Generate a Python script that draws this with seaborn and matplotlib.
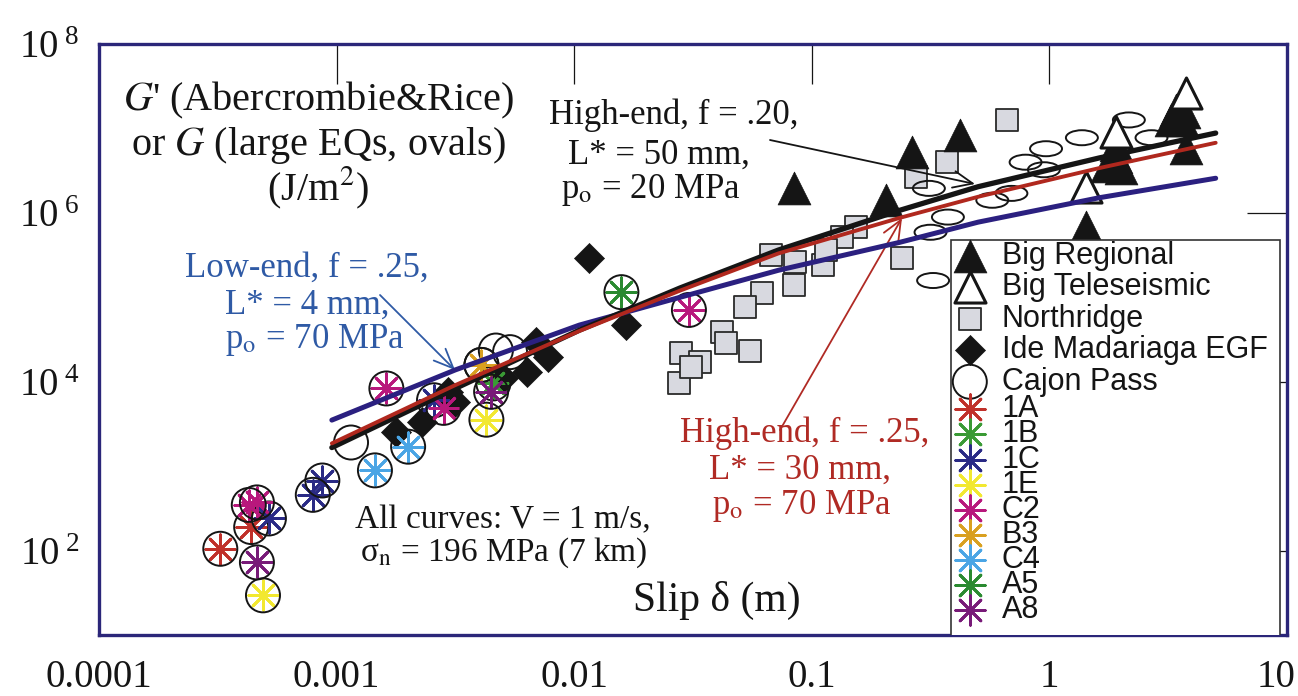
import matplotlib
matplotlib.use('Agg')
import matplotlib.pyplot as plt
import seaborn as sns
import pandas as pd
from matplotlib.path import Path
from matplotlib.patches import Rectangle
from matplotlib.transforms import ScaledTranslation

sns.set_style('white')
plt.rcParams['font.family'] = ['Liberation Serif', 'DejaVu Serif']
plt.rcParams['mathtext.fontset'] = 'stix'

# model curves (slip in m, G in J/m^2)
curve_slip = [9.55e-4, 3.16e-3, 0.0105, 0.0279, 0.0724, 0.234, 0.501, 1.62, 5.01]
g_high20 = [1660, 8320, 4.07e4, 1.29e5, 3.63e5, 1.07e6, 2.04e6, 4.47e6, 8.81e6]
g_high25 = [1860, 9120, 3.98e4, 1.20e5, 3.31e5, 8.71e5, 1.55e6, 3.39e6, 6.76e6]
g_low25 = [3510, 1.38e4, 4.68e4, 1.0e5, 2.09e5, 4.47e5, 7.76e5, 1.51e6, 2.57e6]

# earthquake data
regional_slip = [0.0841, 0.205, 0.264, 0.421, 1.43, 1.91, 1.91, 2.0, 1.74, 3.41, 3.69, 3.63, 3.24, 3.76]
regional_g = [1.95e6, 1.41e6, 5.25e6, 8.32e6, 6.76e5, 6.31e6, 4.57e6, 3.39e6, 3.55e6, 1.66e7, 1.55e7, 1.26e7, 1.26e7, 5.89e6]
tele_slip = [3.76, 1.91, 1.43]
tele_g = [2.63e7, 9.12e6, 2.04e6]
northridge_slip = [0.664, 0.372, 0.275, 0.240, 0.153, 0.134, 0.112, 0.115, 0.0841, 0.0851,
                   0.0676, 0.0617, 0.0525, 0.0417, 0.0437, 0.0550, 0.0282, 0.0339, 0.0275, 0.0309]
northridge_g = [1.26e7, 3.98e6, 2.63e6, 2.88e5, 6.76e5, 5.13e5, 2.40e5, 3.63e5, 1.38e5, 2.63e5,
                3.16e5, 1.12e5, 7.59e4, 3.89e4, 2.88e4, 2.34e4, 2.19e4, 1.70e4, 9550, 1.48e4]
ide_slip = [1.78e-3, 2.29e-3, 2.95e-3, 3.16e-3, 5.01e-3, 6.31e-3, 6.92e-3, 7.76e-3, 0.0115, 0.0166]
ide_g = [2510, 3310, 7590, 5750, 1.10e4, 1.29e4, 2.95e4, 1.95e4, 2.88e5, 4.68e4]
cajon_slip = [1.15e-3, 4.07e-3, 4.68e-3, 5.37e-3]
cajon_g = [1905, 1.58e4, 2.34e4, 2.24e4]
oval_slip = [0.311, 0.374, 0.316, 0.575, 0.692, 0.794, 0.948, 0.968, 1.37, 2.16, 2.69, 0.324]
oval_g = [1.95e6, 8.91e5, 5.89e5, 1.41e6, 1.70e6, 3.98e6, 3.24e6, 5.75e6, 7.76e6, 1.26e7, 7.76e6, 1.58e5]

# lab experiments
lab_order = ['1A', '1B', '1C', '1E', 'C2', 'B3', 'C4', 'A5', 'A8']
lab_id = ['1A', '1A', '1B', '1C', '1C', '1C', '1C', '1E', '1E', 'C2', 'C2', 'C2', 'C2', 'C2',
          'B3', 'C4', 'C4', 'A5', 'A8', 'A8']
lab_slip = [3.24e-4, 4.37e-4, 4.57e-3, 5.19e-4, 7.94e-4, 8.71e-4, 2.57e-3, 4.90e-4, 4.27e-3,
            4.27e-4, 4.62e-4, 1.62e-3, 2.82e-3, 0.0304, 4.07e-3, 1.45e-3, 2.0e-3, 0.0158, 4.62e-4, 4.47e-3]
lab_g = [105, 190, 9550, 240, 457, 676, 6030, 29.5, 3550, 347, 372, 8320, 4900, 7.08e4,
         1.58e4, 891, 1700, 1.15e5, 72.4, 7590]
lab_colors = {'1A': '#c0302a', '1B': '#3a9a35', '1C': '#2a2a85', '1E': '#f2e830', 'C2': '#b8187c',
              'B3': '#d9a020', 'C4': '#4aa5e5', 'A5': '#2a8a30', 'A8': '#781a78'}

lab = pd.DataFrame({'id': lab_id, 'slip': lab_slip, 'g': lab_g})

fig = plt.figure(figsize=(12.98, 6.96), dpi=100)
ax = fig.add_axes([99 / 1298, 61 / 696, 1188 / 1298, 591 / 696])
ax.set_xscale('log')
ax.set_yscale('log')

ink = '#151515'
oval = Path.unit_circle()
oval = Path(oval.vertices * [1.0, 0.47], oval.codes)

sns.scatterplot(x=northridge_slip, y=northridge_g, marker='s', s=272, facecolor='#d8d9e0',
                edgecolor='#2a2a2a', linewidth=1.3, ax=ax, label='Northridge', zorder=2)
sns.scatterplot(x=oval_slip, y=oval_g, marker=oval, s=530, facecolor='none',
                edgecolor=ink, linewidth=1.4, ax=ax, zorder=2)
sns.scatterplot(x=regional_slip, y=regional_g, marker='^', s=560, color=ink,
                edgecolor=ink, linewidth=0.5, ax=ax, label='Big Regional', zorder=3)
sns.scatterplot(x=tele_slip, y=tele_g, marker='^', s=500, facecolor='white',
                edgecolor=ink, linewidth=2.2, ax=ax, label='Big Teleseismic', zorder=3)
sns.scatterplot(x=ide_slip, y=ide_g, marker='D', s=234, color=ink,
                edgecolor=ink, linewidth=0.5, ax=ax, label='Ide Madariaga EGF', zorder=3)
sns.scatterplot(x=cajon_slip, y=cajon_g, marker='o', s=600, facecolor='none',
                edgecolor=ink, linewidth=1.4, ax=ax, label='Cajon Pass', zorder=3)

for name in lab_order:
    sel = lab[lab['id'] == name]
    sns.scatterplot(data=sel, x='slip', y='g', marker=(8, 2, 0), s=450, color=lab_colors[name],
                    linewidth=2.0, ax=ax, label=name, zorder=3)
    sns.scatterplot(data=sel, x='slip', y='g', marker='o', s=600, facecolor='none',
                    edgecolor=ink, linewidth=1.4, ax=ax, zorder=3)

sns.lineplot(x=curve_slip, y=g_low25, color='#2b2080', linewidth=3.6, estimator=None,
             sort=False, ax=ax, zorder=5)
sns.lineplot(x=curve_slip, y=g_high20, color=ink, linewidth=3.8, estimator=None,
             sort=False, ax=ax, zorder=5)
sns.lineplot(x=curve_slip, y=g_high25, color='#b0281e', linewidth=2.8, estimator=None,
             sort=False, ax=ax, zorder=5)

ax.set_xlim(1e-4, 10)
ax.set_ylim(10, 1e8)
ax.set_xticks([1e-4, 1e-3, 1e-2, 1e-1, 1, 10])
ax.set_xticklabels(['0.0001', '0.001', '0.01', '0.1', '1', '10'])
ax.set_yticks([1e2, 1e4, 1e6, 1e8])
ax.set_yticklabels([r'$\mathregular{10^{\ %d}}$' % e for e in (2, 4, 6, 8)])
ax.minorticks_off()
ax.tick_params(which='major', direction='in', length=29, width=0.9, color=ink,
               top=True, right=True, labelcolor=ink)
ax.tick_params(axis='x', labelsize=28, pad=17)
ax.tick_params(axis='y', labelsize=28, pad=14)
last = ax.get_xticklabels()[-1]
last.set_ha('right')
last.set_transform(last.get_transform() + ScaledTranslation(0.08, 0, fig.dpi_scale_trans))
ax.set_xlabel('')
ax.set_ylabel('')
for sp in ax.spines.values():
    sp.set_color('#2b2679')
    sp.set_linewidth(2.4)

# legend box with two stacked legends
ax.add_patch(Rectangle((0.717, -0.002), 0.277, 0.670, transform=ax.transAxes,
                       facecolor='white', edgecolor='#333333', linewidth=1.2, zorder=6))
handles, labels = ax.get_legend_handles_labels()
hmap = dict(zip(labels, handles))
top_names = ['Big Regional', 'Big Teleseismic', 'Northridge', 'Ide Madariaga EGF', 'Cajon Pass']
lprop = {'family': 'Liberation Sans', 'size': 22}
leg1 = ax.legend([hmap[n] for n in top_names], top_names, loc='upper left',
                 bbox_to_anchor=(0.715, 0.675), frameon=False, prop=lprop, handlelength=1.1,
                 handletextpad=0.5, labelspacing=0.05, borderpad=0.15, borderaxespad=0,
                 scatterpoints=1, labelcolor=ink)
leg1.set_zorder(7)
ax.add_artist(leg1)
leg2 = ax.legend([hmap[n] for n in lab_order], lab_order, loc='upper left',
                 bbox_to_anchor=(0.715, 0.415), frameon=False, prop=lprop, handlelength=1.1,
                 handletextpad=0.5, labelspacing=-0.16, borderpad=0.15, borderaxespad=0,
                 scatterpoints=1, labelcolor=ink)
leg2.set_zorder(7)


def ftext(px, py, s, **kw):
    fig.text(px / 1298, 1 - py / 696, s, va='center', **kw)


def farrow(p0, p1, color):
    ax.annotate('', xy=(p1[0] / 1298, 1 - p1[1] / 696), xytext=(p0[0] / 1298, 1 - p0[1] / 696),
                xycoords='figure fraction', textcoords='figure fraction',
                arrowprops=dict(arrowstyle='->,head_length=0.7,head_width=0.3', color=color,
                                lw=1.3, shrinkA=0, shrinkB=0, mutation_scale=20))


ftext(318, 100, "$G$' (Abercrombie&Rice)", ha='center', size=29, color=ink)
ftext(318, 145, "or $G$ (large EQs, ovals)", ha='center', size=29, color=ink)
ftext(318, 188, "(J/m$^2$)", ha='center', size=29, color=ink)

ftext(674, 115, "High-end, f = .20,", ha='center', size=25, color=ink)
ftext(659, 155, "L* = 50 mm,", ha='center', size=25, color=ink)
ftext(651, 190, "p$_\\mathrm{o}$ = 20 MPa", ha='center', size=25, color=ink)
farrow((770, 140), (975, 184), ink)

blue_txt = '#2f5aa5'
ftext(307, 268, "Low-end, f = .25,", ha='center', size=25, color=blue_txt)
ftext(307, 305, "L* = 4 mm,", ha='center', size=25, color=blue_txt)
ftext(315, 340, "p$_\\mathrm{o}$ = 70 MPa", ha='center', size=25, color=blue_txt)
farrow((380, 295), (455, 370), blue_txt)

red_txt = '#b02a24'
ftext(805, 433, "High-end, f = .25,", ha='center', size=25, color=red_txt)
ftext(800, 470, "L* = 30 mm,", ha='center', size=25, color=red_txt)
ftext(802, 506, "p$_\\mathrm{o}$ = 70 MPa", ha='center', size=25, color=red_txt)
farrow((780, 430), (902, 218), red_txt)

ftext(355, 520, "All curves: V = 1 m/s,", ha='left', size=24, color=ink)
ftext(360, 553, "σ$_\\mathrm{n}$ = 196 MPa (7 km)", ha='left', size=24, color=ink)
ftext(717, 600, "Slip δ (m)", ha='center', size=30, color=ink)

fig.savefig('out.png', dpi=100)
